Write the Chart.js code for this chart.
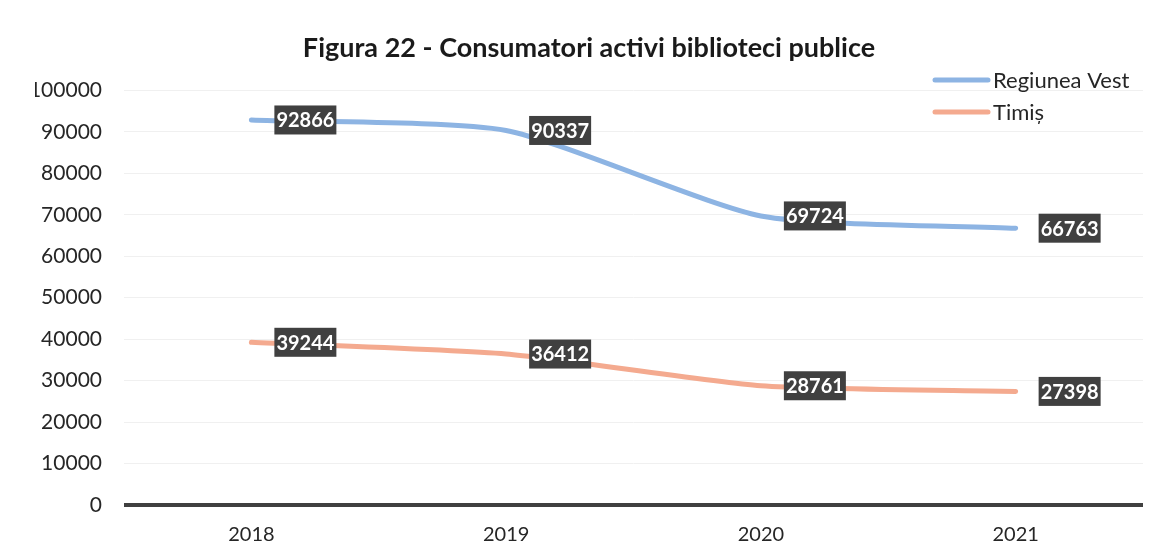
<!DOCTYPE html>
<html>
<head>
<meta charset="utf-8">
<script src="https://cdn.jsdelivr.net/npm/chart.js@4"></script>
<style>
  html, body { margin: 0; padding: 0; background: #fff; }
  #wrap { width: 1160px; height: 556px; }
</style>
</head>
<body>
<div id="wrap"><canvas id="consumatoriChart"></canvas></div>
<script>
// --- date ---
const ani = ['2018', '2019', '2020', '2021'];
const regiuneaVest = [92866, 90337, 69724, 66763];
const timis = [39244, 36412, 28761, 27398];
const titlu = 'Figura 22 - Consumatori activi biblioteci publice';

const FONT = 'Lato, "Open Sans", sans-serif';

// etichete negre cu text alb, la dreapta punctului
const eticheteValori = {
    id: 'eticheteValori',
    afterDatasetsDraw(chart) {
        const ctx = chart.ctx;
        ctx.save();
        ctx.font = 'bold 20px ' + FONT;
        ctx.textBaseline = 'middle';
        ctx.textAlign = 'left';
        chart.data.datasets.forEach((ds, i) => {
            const meta = chart.getDatasetMeta(i);
            meta.data.forEach((pt, j) => {
                const txt = String(ds.data[j]);
                const w = ctx.measureText(txt).width + 4;
                const h = 29;
                const x = pt.x + 23;
                const y = pt.y - h / 2;
                ctx.fillStyle = '#404040';
                ctx.fillRect(x, y, w, h);
                ctx.fillStyle = '#ffffff';
                ctx.fillText(txt, x + 2, pt.y + 1);
            });
        });
        ctx.restore();
    }
};

// legenda verticala, sus in dreapta
const legendaDreapta = {
    id: 'legendaDreapta',
    afterDraw(chart) {
        const ctx = chart.ctx;
        ctx.save();
        ctx.font = '22px ' + FONT;
        ctx.textBaseline = 'middle';
        ctx.textAlign = 'left';
        chart.data.datasets.forEach((ds, i) => {
            const y = 80 + i * 32;
            ctx.strokeStyle = ds.borderColor;
            ctx.lineWidth = 5;
            ctx.lineCap = 'round';
            ctx.beginPath();
            ctx.moveTo(935, y);
            ctx.lineTo(988, y);
            ctx.stroke();
            ctx.fillStyle = '#262626';
            ctx.fillText(ds.label, 993, y + 1);
        });
        ctx.restore();
    }
};

const ctx = document.getElementById('consumatoriChart').getContext('2d');
new Chart(ctx, {
    type: 'line',
    data: {
        labels: ani,
        datasets: [
            { label: 'Regiunea Vest', data: regiuneaVest, borderColor: '#8db4e3', borderWidth: 5, tension: 0.2, pointRadius: 0, borderCapStyle: 'round', fill: false },
            { label: 'Timiș', data: timis, borderColor: '#f4aa8f', borderWidth: 5, tension: 0.2, pointRadius: 0, borderCapStyle: 'round', fill: false }
        ]
    },
    options: {
        responsive: true, maintainAspectRatio: false, animation: false,
        layout: { padding: { left: 35, right: 17, top: 0, bottom: 0 } },
        plugins: {
            legend: { display: false },
            tooltip: { enabled: false },
            title: {
                display: true, text: titlu, color: '#1a1a1a',
                font: { family: FONT, size: 27, weight: 'bold', lineHeight: 1.2 },
                padding: { top: 32, bottom: 26 }
            }
        },
        scales: {
            x: {
                offset: true,
                afterFit: scale => { scale.height = 51; },
                grid: { display: false, drawTicks: false },
                border: { display: false },
                ticks: { color: '#262626', font: { family: FONT, size: 20 }, padding: 18 }
            },
            y: {
                min: 0, max: 100000,
                afterFit: scale => { scale.width = 89; },
                border: { display: false },
                grid: {
                    drawTicks: false,
                    color: c => c.index === 0 ? '#404040' : '#f0f0f0',
                    lineWidth: c => c.index === 0 ? 4 : 1
                },
                ticks: {
                    stepSize: 10000, color: '#262626', padding: 22,
                    font: { family: FONT, size: 21 },
                    callback: v => String(v)
                }
            }
        }
    },
    plugins: [eticheteValori, legendaDreapta]
});
</script>
</body>
</html>
